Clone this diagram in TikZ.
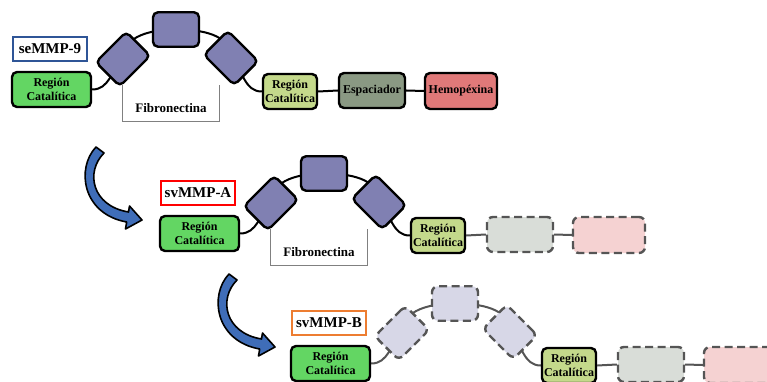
\documentclass[tikz,border=0pt]{standalone}
\usepackage{fontspec}
\setmainfont{Liberation Serif}
\usetikzlibrary{positioning,backgrounds}

\definecolor{catgreen}{HTML}{63D663}
\definecolor{catlime}{HTML}{C4D98B}
\definecolor{spacergray}{HTML}{8A9983}
\definecolor{hemored}{HTML}{E07979}
\definecolor{fnpurple}{HTML}{8080B2}
\definecolor{fnpale}{HTML}{D7D7E7}
\definecolor{spacerpale}{HTML}{D9DDD8}
\definecolor{hemopale}{HTML}{F5D2D2}
\definecolor{ghostline}{HTML}{555555}
\definecolor{tagblue}{HTML}{2F5597}
\definecolor{tagred}{HTML}{FF0000}
\definecolor{tagorange}{HTML}{ED7D31}
\definecolor{arrowblue}{HTML}{3F6DB8}

\tikzset{
  dombox/.style={draw, line width=2.4pt, rounded corners=5pt, inner sep=1pt,
    align=center, font=\fontsize{12}{14}\selectfont\bfseries},
  catbox/.style={dombox, fill=catgreen, minimum width=79pt, minimum height=35pt},
  cattwo/.style={dombox, fill=catlime, minimum width=54pt, minimum height=35pt},
  spacer/.style={dombox, fill=spacergray, minimum width=66pt, minimum height=35pt},
  hemo/.style={dombox, fill=hemored, minimum width=72pt, minimum height=36pt},
  archbox/.style={draw, line width=2.4pt, rounded corners=5pt, fill=fnpurple,
    minimum width=46pt, minimum height=34.5pt},
  ghostbox/.style={archbox, draw=ghostline, fill=fnpale, rounded corners=6pt,
    dash pattern=on 8pt off 4.5pt},
  tilt/.style={minimum width=43pt, minimum height=34pt},
  spacerghost/.style={spacer, draw=ghostline, fill=spacerpale, rounded corners=6pt,
    dash pattern=on 8pt off 4.5pt},
  hemoghost/.style={hemo, draw=ghostline, fill=hemopale, rounded corners=6pt,
    dash pattern=on 8pt off 4.5pt},
  tag/.style={line width=2pt, fill=white, minimum width=74pt, minimum height=24pt,
    inner sep=0pt, font=\fontsize{15}{17}\selectfont\bfseries},
  link/.style={line width=2pt, black},
  ghostlink/.style={line width=2pt, ghostline},
  fibframe/.style={minimum width=96pt, minimum height=36pt, inner sep=0pt},
  fibtext/.style={inner sep=0pt, font=\fontsize{13}{15}\selectfont\bfseries},
  bracket/.style={draw=gray, line width=0.8pt},
  turnarrow/.style={fill=arrowblue, draw=black, line width=1.6pt, line join=round}
}

\begin{document}
\begin{tikzpicture}[x=1pt,y=-1pt]
  \useasboundingbox (0,0) rectangle (767,382);

  % one row for each form
  \foreach \row/\sx/\sy/\lbl/\tagc/\ab/\lk in {1/0/0/seMMP-9/tagblue/archbox/link,
      2/148/144/svMMP-A/tagred/archbox/link,
      3/279/274/svMMP-B/tagorange/ghostbox/ghostlink} {
    \begin{scope}[shift={(\sx,\sy)}]
      \node[tag, draw=\tagc] (tag\row) at (50,49) {\lbl};
      \node[catbox] (cat\row) at (51.5,89.5) {Región\\Catalítica};
      \node[\ab, tilt, rotate=45] (fa\row) at (123,59) {};
      \node[\ab] (fb\row) at (176,29.5) {};
      \node[\ab, tilt, rotate=-45] (fc\row) at (231,58) {};
      \node[cattwo] (catb\row) at (290,91.5) {Región\\Catalítica};
      \begin{pgfonlayer}{background}
        \draw[\lk] (cat\row.east) to[out=0,in=-135] (fa\row.center);
        \draw[\lk] (fa\row.center) to[out=90,in=180] (fb\row.center);
        \draw[\lk] (fb\row.center) to[out=0,in=90] (fc\row.center);
        \draw[\lk] (fc\row.center) to[out=-45,in=180] (catb\row.west);
      \end{pgfonlayer}
    \end{scope}
  }

  % fibronectin brackets
  \foreach \row/\sx/\sy in {1/0/0, 2/148/144} {
    \begin{scope}[shift={(\sx,\sy)}]
      \node[fibframe] (fn\row) at (171,103) {};
      \node[fibtext, above=8pt of fn\row.south] (fnt\row) {Fibronectina};
      \draw[bracket] (fn\row.north west) |- (fn\row.south east) -- (fn\row.north east);
    \end{scope}
  }

  % full tail
  \node[spacer] (sp1) at (372,90.5) {Espaciador};
  \node[hemo] (hx1) at (461,91) {Hemopéxina};
  \draw[link] (catb1.east) -- (sp1.west);
  \draw[link] (sp1.east) -- (hx1.west);

  % lost tails
  \foreach \row/\sx/\sy in {2/148/144, 3/279/274} {
    \begin{scope}[shift={(\sx,\sy)}]
      \node[spacerghost] (sp\row) at (372,90.5) {};
      \node[hemoghost] (hx\row) at (461,91) {};
      \draw[ghostlink] (catb\row.east) -- (sp\row.west);
      \draw[ghostlink] (sp\row.east) -- (hx\row.west);
    \end{scope}
  }

  % curved arrows
  \foreach \sx/\sy in {0/0, 133/127} {
    \filldraw[turnarrow, shift={(\sx,\sy)}]
      (96,147) .. controls (76,168) and (82,214) .. (126.7,222)
      -- (125.5,229) -- (142,220) -- (129.5,206) -- (128.5,212)
      .. controls (92,206) and (85,172) .. (104,153) -- cycle;
  }
\end{tikzpicture}
\end{document}
